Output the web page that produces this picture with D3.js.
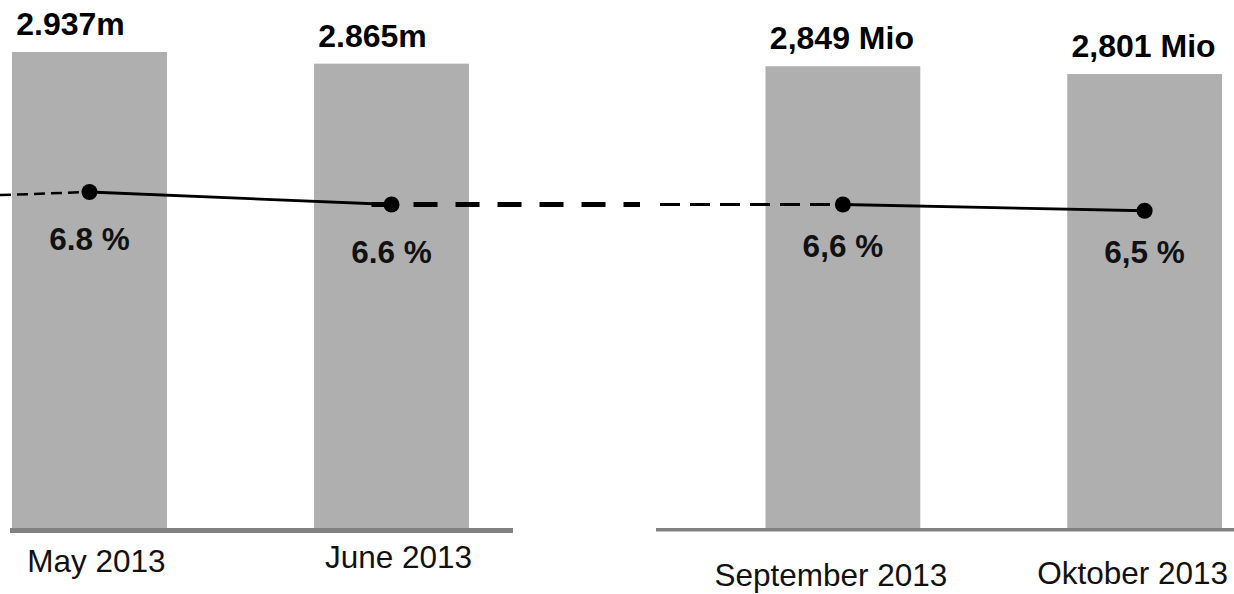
<!DOCTYPE html>
<html>
<head>
<meta charset="utf-8">
<script src="https://cdn.jsdelivr.net/npm/d3@7"></script>
<style>
  html, body { margin: 0; padding: 0; background: #fff; }
  svg { display: block; font-family: "Liberation Sans", Arial, sans-serif; }
</style>
</head>
<body>
<svg id="chart" width="1234" height="594"></svg>
<script>
// ---- data ----
const categories = ["May 2013", "June 2013", "September 2013", "Oktober 2013"];
const employed = [2.937, 2.865, 2.849, 2.801];            // millions
const valueLabels = ["2.937m", "2.865m", "2,849 Mio", "2,801 Mio"];
const rates = [6.8, 6.6, 6.6, 6.5];                        // percent
const rateLabels = ["6.8 %", "6.6 %", "6,6 %", "6,5 %"];
const panelIndex = [0, 0, 1, 1];
const leadInRates = [6.75, 6.6];   // dashed lead-in value at each panel's left edge
const trailRates = [6.6, null];    // dashed continuation after a panel's last point

// ---- layout ----
const svg = d3.select("#chart");
const baseY = 528;

const panels = [
  { bandRange: [12, 469], axisRange: [10, 513], axisW: 5, leadX: 0, trailX: 640,
    valDx: -19, rateDy: 58, catDx: [7, 7], catY: [572, 568] },
  { bandRange: [765.5, 1222], axisRange: [656, 1234], axisW: 3.5, leadX: 660, trailX: null,
    valDx: -1, rateDy: 52, catDx: [-12, -12], catY: [586, 584] }
];

const yBar = d3.scaleLinear().domain([0, 2.937]).range([baseY, 52]);
const yRate = d3.scaleLinear().domain([6.5, 6.8]).range([210.75, 192]);

const barColor = "#afafaf";
const axisColor = "#828282";

panels.forEach((p, pi) => {
  const idx = categories.map((c, i) => i).filter(i => panelIndex[i] === pi);
  const cats = idx.map(i => categories[i]);
  const x = d3.scaleBand().domain(cats).range(p.bandRange).paddingInner(0.487).paddingOuter(0);
  const cx = i => x(categories[i]) + x.bandwidth() / 2;
  const g = svg.append("g");

  // bars
  g.selectAll("rect.bar").data(idx).join("rect")
    .attr("x", i => x(categories[i]))
    .attr("y", i => yBar(employed[i]))
    .attr("width", x.bandwidth())
    .attr("height", i => baseY - yBar(employed[i]))
    .attr("fill", barColor);

  // axis line
  g.append("line")
    .attr("x1", p.axisRange[0]).attr("x2", p.axisRange[1])
    .attr("y1", baseY + p.axisW / 2).attr("y2", baseY + p.axisW / 2)
    .attr("stroke", axisColor).attr("stroke-width", p.axisW);

  // bar value labels
  g.selectAll("text.val").data(idx).join("text")
    .attr("x", i => cx(i) + p.valDx)
    .attr("y", i => yBar(employed[i]) - 17)
    .attr("text-anchor", "middle")
    .attr("font-size", 32).attr("font-weight", "bold").attr("fill", "#000")
    .text(i => valueLabels[i]);

  // category labels
  g.selectAll("text.cat").data(idx).join("text")
    .attr("x", (i, k) => cx(i) + p.catDx[k])
    .attr("y", (i, k) => p.catY[k])
    .attr("text-anchor", "middle")
    .attr("font-size", 31.5).attr("fill", "#111")
    .text(i => categories[i]);

  // dashed lead-in
  const first = idx[0];
  const line = d3.line().x(d => d[0]).y(d => yRate(d[1]));
  g.append("path")
    .attr("d", line([[p.leadX, leadInRates[pi]], [cx(first), rates[first]]]))
    .attr("fill", "none").attr("stroke", "#000")
    .attr("stroke-width", pi === 0 ? 2.5 : 3)
    .attr("stroke-dasharray", pi === 0 ? "11,6" : "20,10");

  // dashed trail
  if (trailRates[pi] != null) {
    const last = idx[idx.length - 1];
    g.append("path")
      .attr("d", line([[cx(last) - 20, trailRates[pi]], [p.trailX, trailRates[pi]]]))
      .attr("fill", "none").attr("stroke", "#000").attr("stroke-width", 5)
      .attr("stroke-dasharray", "24,18");
  }

  // solid line
  g.append("path")
    .attr("d", line(idx.map(i => [cx(i), rates[i]])))
    .attr("fill", "none").attr("stroke", "#000").attr("stroke-width", 2.8);

  // dots
  g.selectAll("circle").data(idx).join("circle")
    .attr("cx", i => cx(i)).attr("cy", i => yRate(rates[i]))
    .attr("r", 8).attr("fill", "#000");

  // rate labels
  g.selectAll("text.rate").data(idx).join("text")
    .attr("x", i => cx(i))
    .attr("y", i => yRate(rates[i]) + p.rateDy)
    .attr("text-anchor", "middle")
    .attr("font-size", 31.5).attr("font-weight", "bold").attr("fill", "#111")
    .text(i => rateLabels[i]);
});
</script>
</body>
</html>
